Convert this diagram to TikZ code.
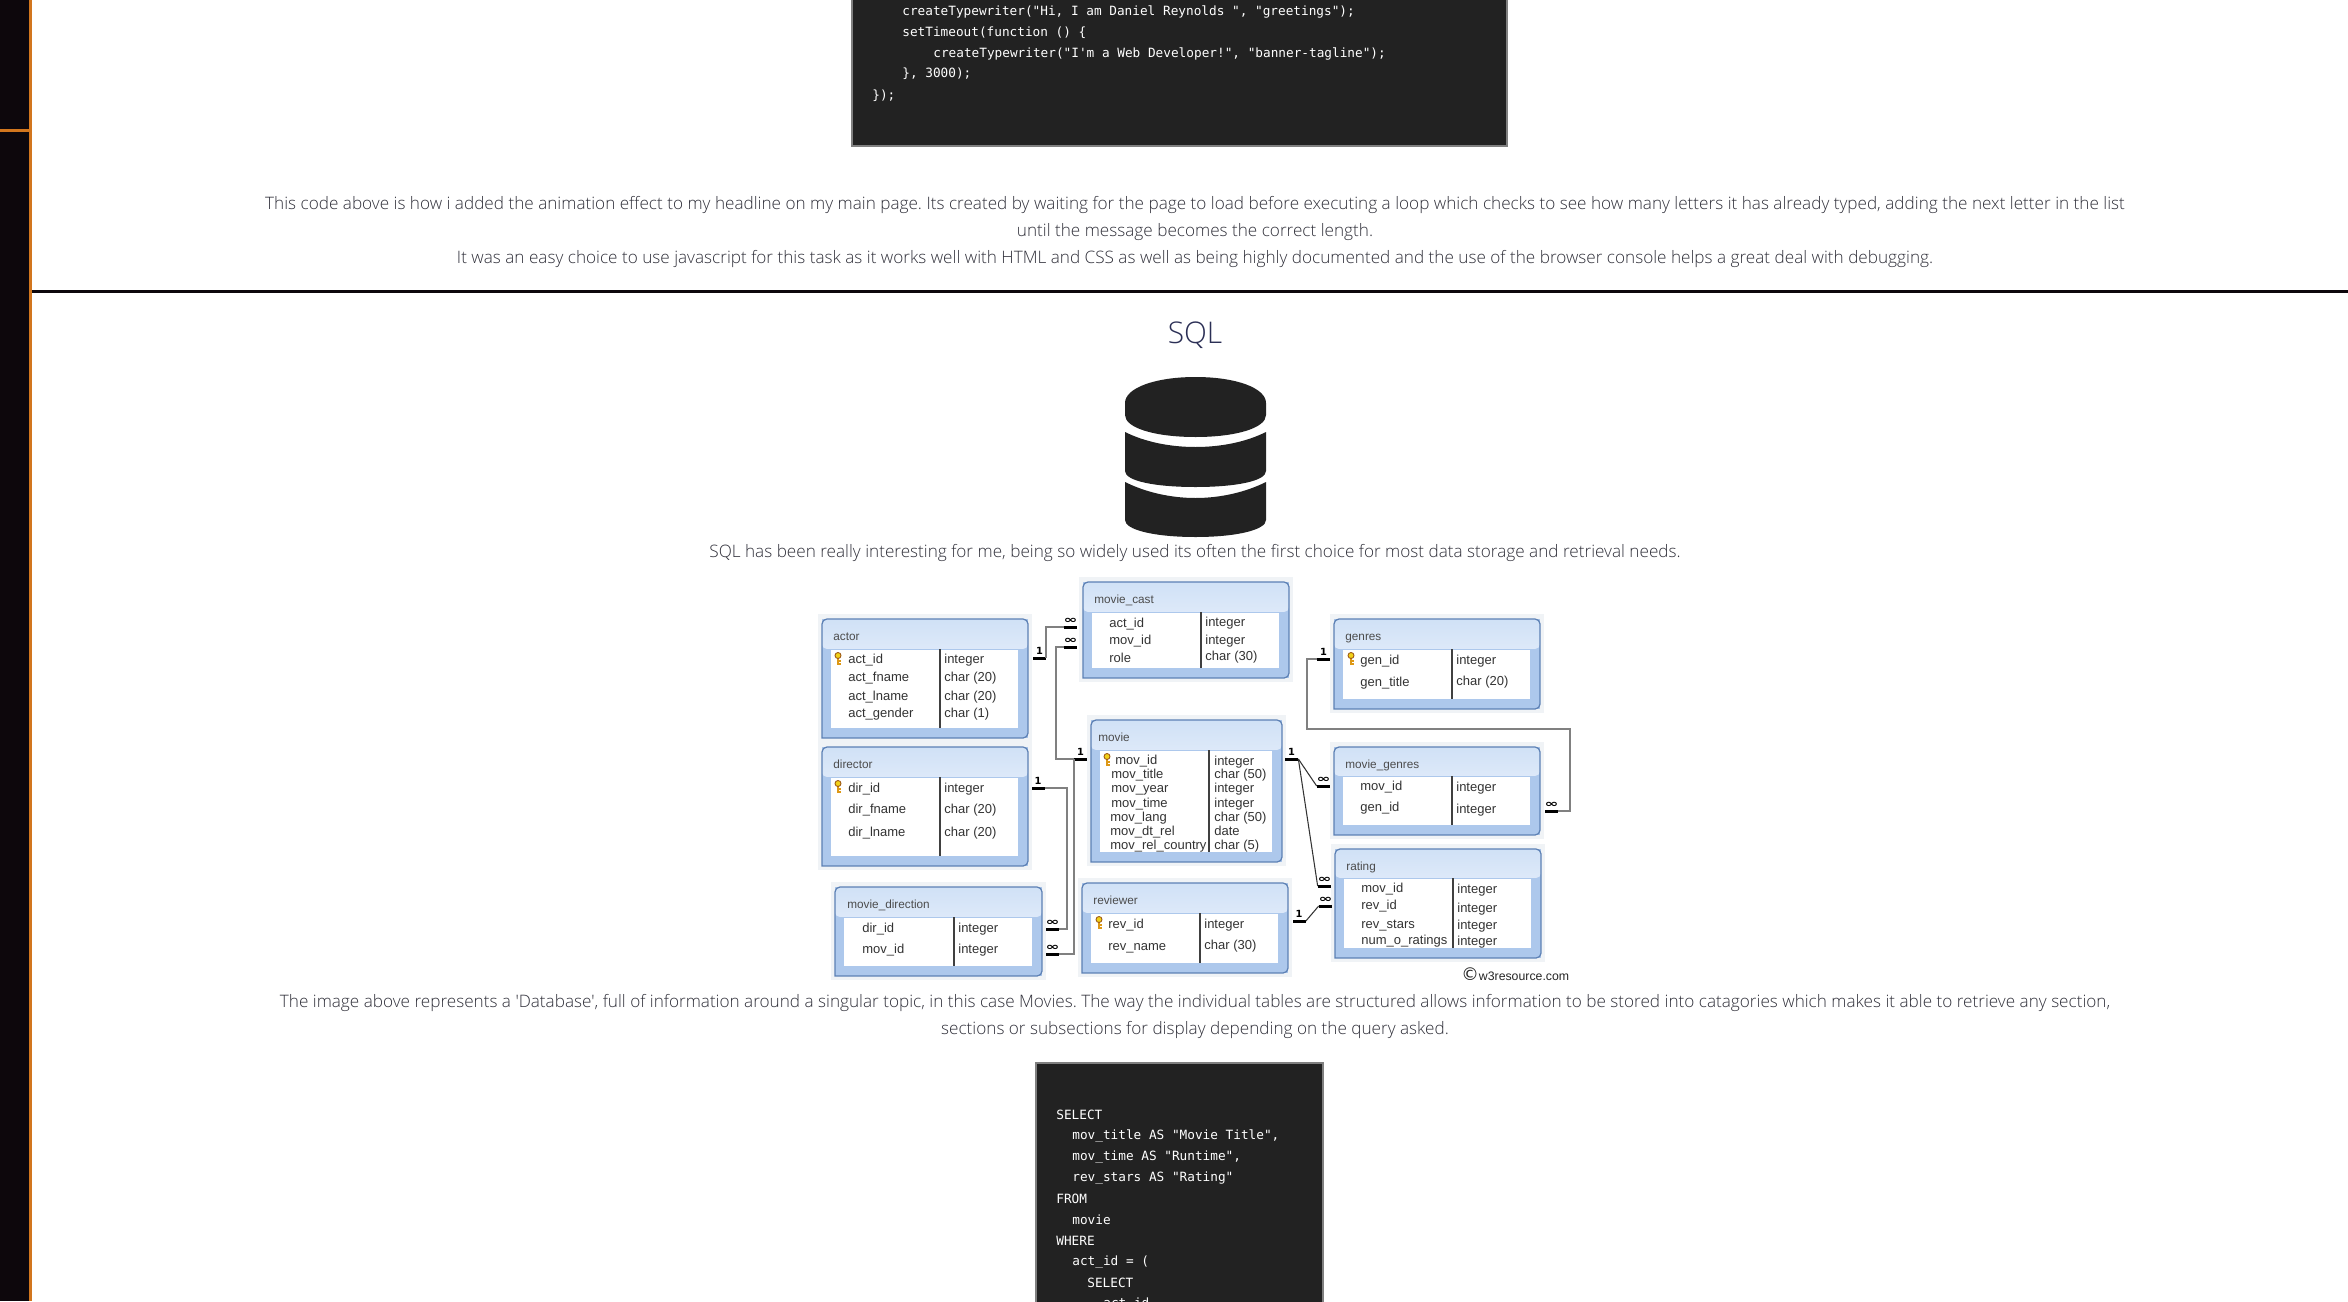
\documentclass[tikz,border=0pt]{standalone}
\usepackage{fontspec}
\usepackage{xcolor}
\usepackage{tikz}
\usetikzlibrary{positioning}
\newfontfamily\parafont{Open Sans}[UprightFont=* Light]
\newfontfamily\tablefont{Liberation Sans}
\newfontfamily\codefont{DejaVu Sans Mono}
\newfontfamily\symfont{DejaVu Sans}
\newcommand{\manymark}{\scalebox{1}[0.62]{\fontsize{9.5}{9}\selectfont ∞}}
\frenchspacing
\definecolor{side}{HTML}{0D070C}
\definecolor{amber}{HTML}{D2761E}
\definecolor{codebg}{HTML}{222222}
\definecolor{codeedge}{HTML}{808080}
\definecolor{ink}{HTML}{30303A}
\definecolor{navy}{HTML}{2B2F55}
\definecolor{halo}{HTML}{F0F3F6}
\definecolor{tabblue}{HTML}{ADC8EC}
\definecolor{tabedge}{HTML}{5C80B4}
\definecolor{headtop}{HTML}{D0E1F6}
\definecolor{headmid}{HTML}{EFF5FD}
\definecolor{headlow}{HTML}{DDE9F9}
\definecolor{cellink}{HTML}{333333}

\begin{document}
\begin{tikzpicture}[
  x=0.02cm, y=-0.02cm,
  para/.style={font=\parafont\fontsize{9.76}{12}\selectfont, text=ink, inner sep=0pt},
  code/.style={anchor=west, font=\codefont\fontsize{7.25}{9}\selectfont, text=white, inner sep=0pt},
  codebox/.style={fill=codebg, draw=codeedge, line width=0.6pt},
  ttl/.style={anchor=west, inner sep=0pt, font=\tablefont\fontsize{6.7}{8}\selectfont, text=black!70,
              text height=1.5ex, text depth=.4ex},
  cell/.style={anchor=west, inner sep=0pt, font=\tablefont\fontsize{7.4}{9}\selectfont, text=cellink,
               text height=1.5ex, text depth=.4ex},
  bar/.style={fill=black, inner sep=0pt, minimum width=0.26cm, minimum height=0.06cm},
  card/.style={inner sep=0pt, font=\symfont\bfseries\fontsize{5.6}{6}\selectfont, above=0.5pt of #1},
  conn/.style={draw=codeedge, line width=1.1pt},
  thinconn/.style={draw=black!80, line width=0.6pt}
]
\useasboundingbox (0,0) rectangle (2348,1301);
\fill[white] (0,0) rectangle (2348,1301);

% page frame
\fill[side] (0,0) rectangle (29,1301);
\fill[amber] (29,0) rectangle (32,1301);
\fill[amber] (0,129) rectangle (29,132);
\fill[side] (32,290) rectangle (2348,293);

% code at the top
\draw[codebox] (852,-3) rectangle (1507,146);
\foreach \cname/\cx/\cy/\ctxt in {
  ca/902/12/{createTypewriter("Hi, I am Daniel Reynolds ", "greetings");},
  cb/902/33/{setTimeout(function () \{},
  cc/933/54/{createTypewriter("I'm a Web Developer!", "banner-tagline");},
  cd/902/74/{\}, 3000);},
  ce/872/96/{\});}}
  \node[code] (\cname) at (\cx,\cy) {\ctxt};

\node[para] (intro1) at (1195,205) {This code above is how i added the animation effect to my headline on my main page. Its created by waiting for the page to load before executing a loop which checks to see how many letters it has already typed, adding the next letter in the list};
\node[para] (intro2) at (1195,232) {until the message becomes the correct length.};
\node[para] (intro3) at (1195,259) {It was an easy choice to use javascript for this task as it works well with HTML and CSS as well as being highly documented and the use of the browser console helps a great deal with debugging.};

\node[inner sep=0pt, font=\parafont\fontsize{17}{20}\selectfont, text=navy] (sqlhead) at (1195,335) {SQL};

% database icon
\fill[codebg] (1125,403) .. controls (1125,388) and (1155,377) .. (1195.5,377)
  .. controls (1236,377) and (1266,388) .. (1266,403) -- (1266,415)
  .. controls (1266,428) and (1236,437) .. (1195.5,437)
  .. controls (1155,437) and (1125,428) .. (1125,415) -- cycle;
\foreach \ya/\yb/\yc/\yd in {432/447/471/487, 482/498/520/537}
  \fill[codebg] (1125,\ya) .. controls (1145,\ya+10) and (1170,\yb) .. (1195.5,\yb)
    .. controls (1221,\yb) and (1246,\ya+10) .. (1266,\ya) -- (1266,\yc)
    .. controls (1266,\yc+10) and (1236,\yd) .. (1195.5,\yd)
    .. controls (1155,\yd) and (1125,\yc+10) .. (1125,\yc) -- cycle;

\node[para] (sqltext) at (1195,553) {SQL has been really interesting for me, being so widely used its often the first choice for most data storage and retrieval needs.};

% tables
\foreach \nm/\xa/\ya/\xb/\yb/\yh/\xd/\tx/\ttxt in {
  actor/822/619/1028/738/649/940/833/actor,
  director/822/747/1028/866/777/940/833/director,
  mdirection/835/887/1042/976/917/954/847/movie\_direction,
  mcast/1083/582/1289/678/612/1201/1094/movie\_cast,
  movie/1091/720/1282/862/750/1209/1098/movie,
  reviewer/1082/883/1288/973/913/1200/1093/reviewer,
  genres/1334/619/1540/709/649/1452/1345/genres,
  mgenres/1334/747/1540/835/776/1452/1345/movie\_genres,
  rating/1335/849/1541/958/878/1453/1346/rating} {
  \fill[halo] (\xa-4,\ya-5) rectangle (\xb+4,\yb+4);
  \fill[tabblue] (\xa,\ya) rectangle (\xb,\yb);
  \shade[top color=headtop, middle color=headmid, bottom color=headlow, rounded corners=2.8pt]
    (\xa,\yh) [sharp corners] -- (\xa,\yh) [rounded corners=2.8pt] -- (\xa,\ya) -- (\xb,\ya) -- (\xb,\yh) -- cycle;
  \fill[white] (\xa+9,\yh) rectangle (\xb-10,\yb-10);
  \draw[tabblue, line width=0.5pt] (\xa,\yh) -- (\xb,\yh);
  \draw[tabedge, line width=0.7pt, rounded corners=2.8pt] (\xa,\yb) -- (\xa,\ya) -- (\xb,\ya) -- (\xb,\yb) [sharp corners] -- cycle;
  \draw[black!75, line width=0.7pt] (\xd,\yh) -- (\xd,\yb-10);
  \node[ttl] (\nm) at (\tx,\ya+17) {\ttxt};
}

% rows of the tables
\foreach \lx/\ly/\rx/\ry/\ltxt/\rtxt [count=\i] in {
  848/659/944/659/act\_id/integer,
  848/677/944/677/act\_fname/char (20),
  848/696/944/696/act\_lname/char (20),
  848/713/944/713/act\_gender/char (1),
  848/788/944/788/dir\_id/integer,
  848/809/944/809/dir\_fname/char (20),
  848/832/944/832/dir\_lname/char (20),
  862/928/958/928/dir\_id/integer,
  862/949/958/949/mov\_id/integer,
  1109/623/1205/622/act\_id/integer,
  1109/640/1205/640/mov\_id/integer,
  1109/658/1205/656/role/char (30),
  1115/760/1214/761/mov\_id/integer,
  1111/774/1214/774/mov\_title/char (50),
  1111/788/1214/788/mov\_year/integer,
  1111/803/1214/803/mov\_time/integer,
  1110/817/1214/817/mov\_lang/char (50),
  1110/831/1214/831/mov\_dt\_rel/date,
  1110/845/1214/845/mov\_rel\_country/char (5),
  1108/924/1204/924/rev\_id/integer,
  1108/946/1204/945/rev\_name/char (30),
  1360/660/1456/660/gen\_id/integer,
  1360/682/1456/681/gen\_title/char (20),
  1360/786/1456/787/mov\_id/integer,
  1360/807/1456/809/gen\_id/integer,
  1361/888/1457/889/mov\_id/integer,
  1361/905/1457/908/rev\_id/integer,
  1361/924/1457/925/rev\_stars/integer,
  1361/940/1457/941/num\_o\_ratings/integer} {
  \node[cell] (rowl\i) at (\lx,\ly) {\ltxt};
  \node[cell] (rowr\i) at (\rx,\ry) {\rtxt};
}

% keys
\foreach \kx/\ky in {838/659, 838/787, 1107/760, 1099/923, 1351/659} {
  \draw[amber!75!yellow, line width=1.1pt] (\kx,\ky-2) -- (\kx,\ky+6);
  \draw[amber!75!yellow, line width=0.8pt] (\kx,\ky+2) -- (\kx+2.5,\ky+2) (\kx,\ky+5) -- (\kx+2.5,\ky+5);
  \filldraw[draw=amber!75!black, fill=yellow!70!amber, line width=0.5pt] (\kx,\ky-3.5) circle (3);
}

% cardinality marks
\foreach \nm/\x/\y/\sym in {
  bactor/1039.5/658/1, bdirector/1038/788/1, bmovl/1080.5/759/1, bmovr/1291.5/759/1,
  bgenres/1323.5/659/1, breviewer/1299/921/1,
  bcasta/1070.5/627/\manymark, bcastm/1070.5/647/\manymark, bmda/1052.5/929/\manymark, bmdm/1052.5/954/\manymark,
  bmg/1323.5/786/\manymark, bgm/1551.5/811/\manymark, brata/1324.5/886/\manymark, bratb/1325.5/906/\manymark} {
  \node[bar] (\nm) at (\x,\y) {};
  \node[card=\nm] (\nm-sym) {\sym};
}

% connectors
\coordinate (jcast) at (1056,700);
\coordinate (jdir) at (1067,850);
\coordinate (jgena) at (1307,729);
\coordinate (jgenb) at (1570,729);

\draw[conn] (bactor.east) |- (bcasta.west);
\draw[conn] (bcastm.west) -| (jcast) |- (bmovl.west);
\draw[conn] (bdirector.east) -| (jdir) |- (bmda.east);
\draw[conn] (bmdm.east) -| (bmovl.west);
\draw[conn] (bgenres.west) -| (jgena) -- (jgenb) |- (bgm.east);
\draw[thinconn] (bmovr.east) -- (bmg.west);
\draw[thinconn] (bmovr.east) -- (brata.west);
\draw[thinconn] (breviewer.east) -- (bratb.west);

\node[anchor=west, inner sep=0pt, font=\tablefont\fontsize{7}{8}\selectfont, text=black!85] (credit) at (1461,974) {{\symfont\fontsize{10}{10}\selectfont ©}w3resource.com};

\node[para] (dbtext1) at (1195,1003) {The image above represents a 'Database', full of information around a singular topic, in this case Movies. The way the individual tables are structured allows information to be stored into catagories which makes it able to retrieve any section,};
\node[para] (dbtext2) at (1195,1030) {sections or subsections for display depending on the query asked.};

% code at the bottom
\draw[codebox] (1036,1063) rectangle (1323,1310);
\foreach \cname/\cx/\cy/\ctxt in {
  qa/1056/1115/{SELECT},
  qb/1072/1136/{mov\_title AS "Movie Title",},
  qc/1072/1157/{mov\_time AS "Runtime",},
  qd/1072/1178/{rev\_stars AS "Rating"},
  qe/1056/1199/{FROM},
  qf/1072/1220/{movie},
  qg/1056/1241/{WHERE},
  qh/1072/1262/{act\_id = (},
  qi/1087/1283/{SELECT},
  qj/1103/1304/{act\_id}}
  \node[code] (\cname) at (\cx,\cy) {\ctxt};
\end{tikzpicture}
\end{document}
